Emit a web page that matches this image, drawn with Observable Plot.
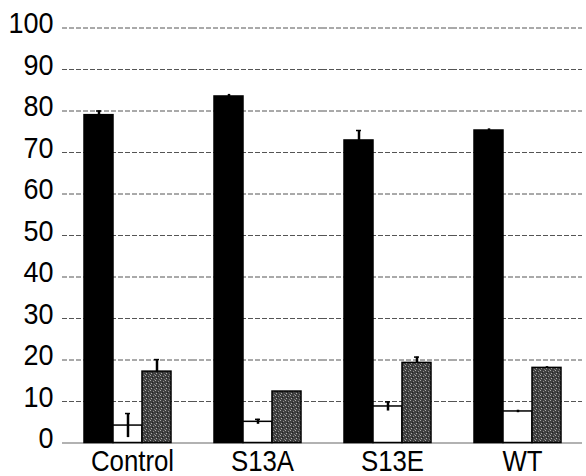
<!DOCTYPE html>
<html><head><meta charset="utf-8">
<script src="https://cdn.jsdelivr.net/npm/d3@7"></script>
<script src="https://cdn.jsdelivr.net/npm/@observablehq/plot@0.6"></script>
<style>
body{margin:0;background:#fff;}
#chart svg{display:block;}
</style></head><body>
<svg width="0" height="0" style="position:absolute">
  <defs>
    <pattern id="stipple" width="5" height="5" patternUnits="userSpaceOnUse">
      <rect width="5" height="5" fill="#404040"/>
      <rect x="0" y="0" width="1" height="1" fill="#a8a8a8"/>
      <rect x="3" y="1" width="1" height="1" fill="#8c8c8c"/>
      <rect x="1" y="3" width="1" height="1" fill="#b0b0b0"/>
      <rect x="4" y="4" width="1" height="1" fill="#7a7a7a"/>
      <rect x="2" y="2" width="1" height="1" fill="#202020"/>
    </pattern>
  </defs>
</svg>
<div id="chart"></div>
<script>
const groups = ["Control", "S13A", "S13E", "WT"];
const seriesNames = ["s1", "s2", "s3"];
const s1 = [79.0, 83.5, 72.9, 75.3];
const s1Err = [1.0, 0.5, 2.4, 0.4];
const s2 = [4.2, 5.1, 8.8, 7.6];
const s2Err = [2.9, 0.6, 1.1, 0.3];
const s3 = [17.2, 12.4, 19.3, 18.1];
const s3Err = [2.9, 0.0, 1.4, 0.3];
const yTicks = [0, 10, 20, 30, 40, 50, 60, 70, 80, 90, 100];

const vals = [s1, s2, s3];
const errs = [s1Err, s2Err, s3Err];
const data = [];
groups.forEach((g, i) => seriesNames.forEach((s, j) =>
  data.push({group: g, series: s, value: vals[j][i], err: errs[j][i]})));

const FONT = '"Liberation Sans", Arial, sans-serif';

const chart = Plot.plot({
  width: 586, height: 476,
  marginLeft: 62, marginRight: 4, marginTop: 27.5, marginBottom: 33.5,
  style: {fontFamily: FONT, fontSize: "30px", background: "#fff", color: "#000"},
  fx: {domain: groups, padding: 0, label: null, axis: null},
  x: {domain: seriesNames, paddingInner: 0, paddingOuter: 0.68, axis: null},
  y: {domain: [0, 100], label: null, axis: null},
  color: {domain: seriesNames, range: ["#000", "#fff", "url(#stipple)"]},
  marks: [
    Plot.ruleY(yTicks.filter(d => d > 0), {stroke: "#555", strokeWidth: 1, strokeDasharray: "5,2"}),
    Plot.ruleY([0], {stroke: "#666", strokeWidth: 1.2}),
    Plot.axisY({ticks: yTicks, tickSize: 0, tickPadding: 9, fontSize: 30, dy: -4.5, label: null,
      fill: "#000", line: true, stroke: "#555", strokeDasharray: "3,2", strokeWidth: 1, ariaLabel: "yaxis"}),
    Plot.axisFx({anchor: "bottom", tickSize: 0, tickPadding: 7, fontSize: 30, dx: 5, label: null, fill: "#000", ariaLabel: "fxaxis"}),
    Plot.barY(data, {fx: "group", x: "series", y: "value", fill: "series", stroke: "#000", strokeWidth: 1.5}),
    Plot.ruleX(data.filter(d => d.err > 0), {fx: "group", x: "series",
      y1: d => d.series === "s2" ? d.value - d.err : d.value, y2: d => d.value + d.err,
      stroke: "#000", strokeWidth: 2.5}),
    Plot.tickY(data.filter(d => d.err > 0.5), {fx: "group", x: "series", y: d => d.value + d.err,
      stroke: "#000", strokeWidth: 1.5, insetLeft: 12, insetRight: 12})
  ]
});
document.getElementById("chart").appendChild(chart);
// narrow the Arial-like glyphs to match the condensed lettering
d3.select(chart).selectAll("text").each(function() {
  const isY = /^\d+$/.test(this.textContent.trim());
  const len = this.getComputedTextLength();
  this.setAttribute("textLength", (len * (isY ? 0.9 : 0.86)).toFixed(1));
  this.setAttribute("lengthAdjust", "spacingAndGlyphs");
});
</script></body></html>
